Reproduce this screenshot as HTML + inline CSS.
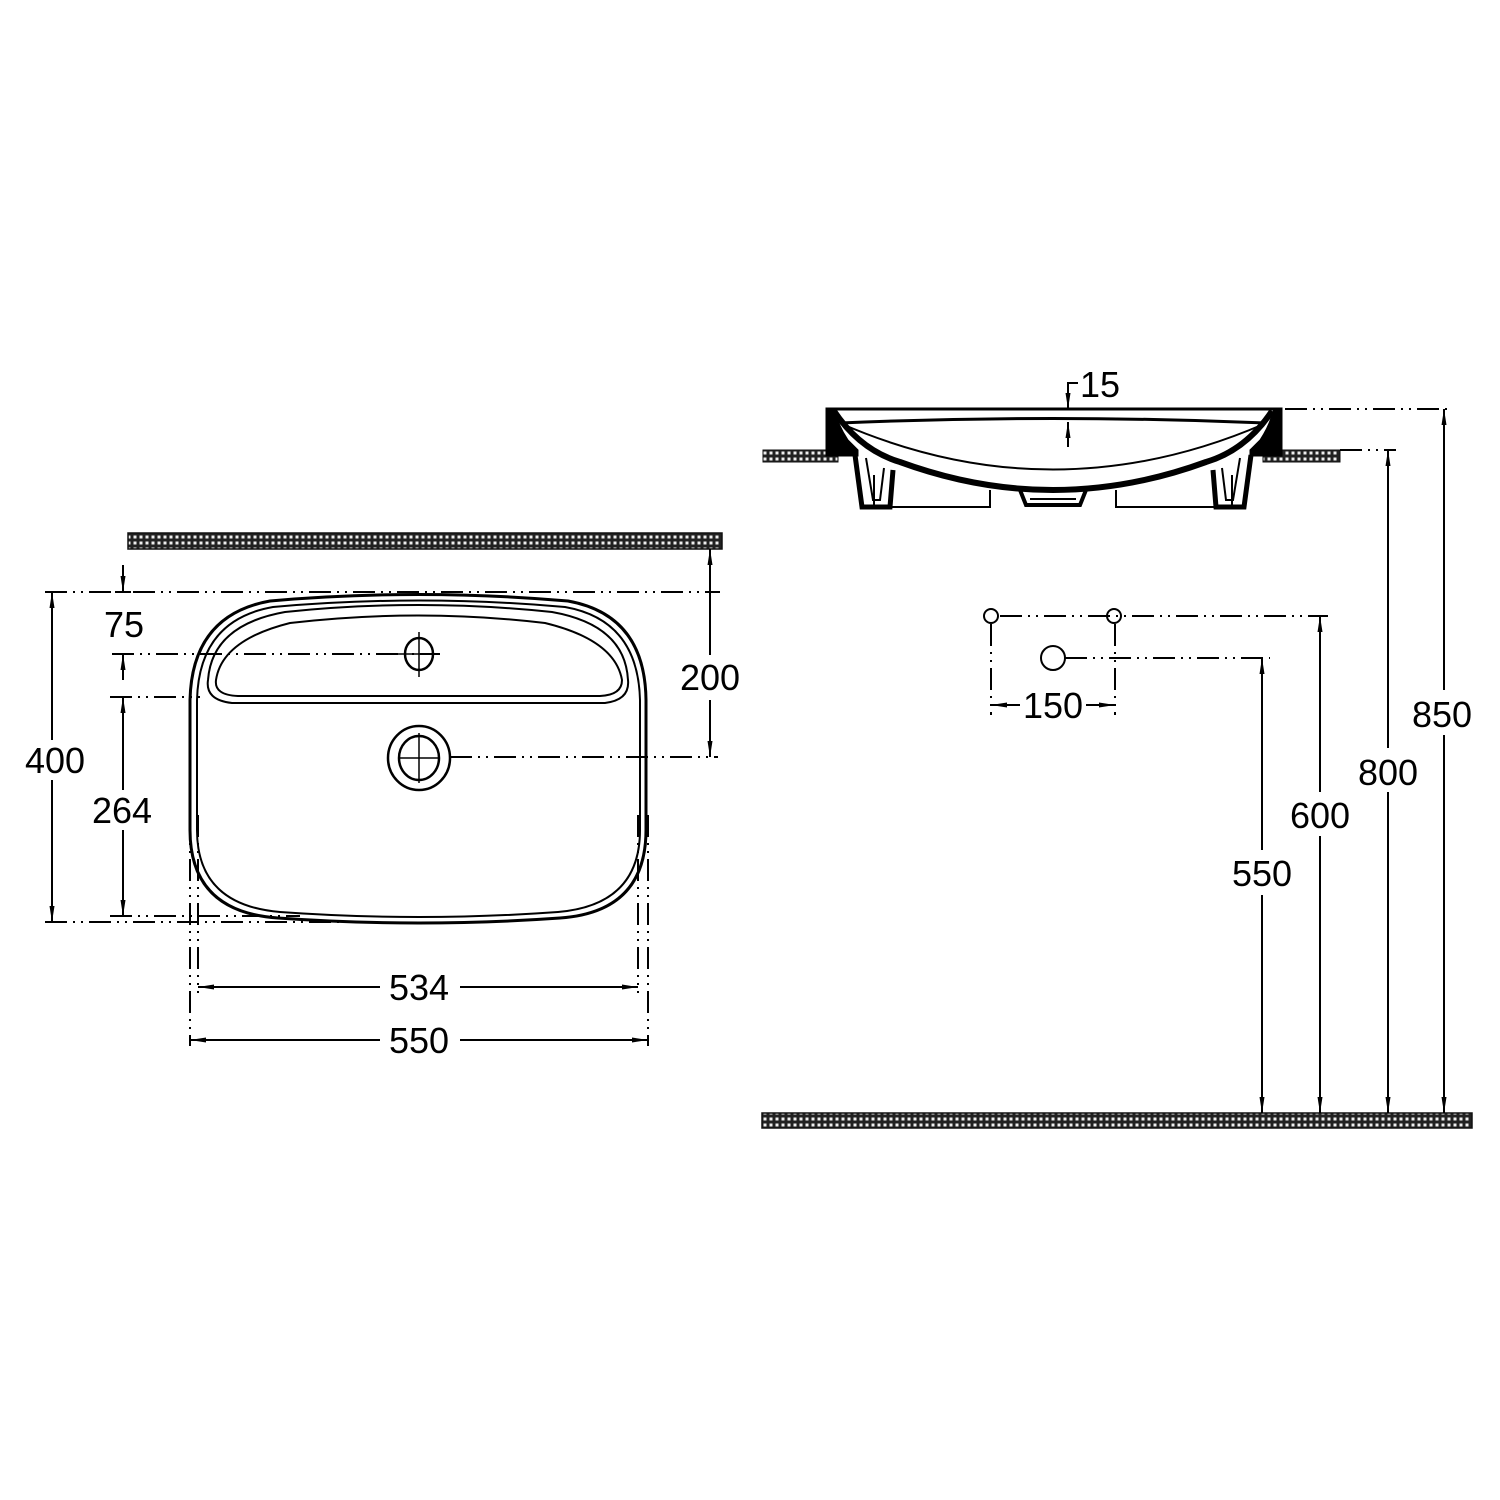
<!DOCTYPE html>
<html><head><meta charset="utf-8"><style>
html,body{margin:0;padding:0;background:#fff}
svg{display:block}
text{font-family:"Liberation Sans",sans-serif;font-size:36px;fill:#000}
</style></head><body>
<svg width="1500" height="1500" viewBox="0 0 1500 1500" xmlns="http://www.w3.org/2000/svg">
<defs>
<pattern id="hp" width="6" height="6" patternUnits="userSpaceOnUse">
<rect width="6" height="6" fill="#222"/><rect x="1.5" y="1.5" width="3" height="3" fill="#eee"/>
</pattern>
<marker id="ar" viewBox="0 0 16 8" refX="16" refY="4" markerWidth="16" markerHeight="8" orient="auto-start-reverse" markerUnits="userSpaceOnUse"><path d="M0,1.5 L16,4 L0,6.5 Z" fill="#000"/></marker>
</defs>
<g fill="none" stroke="#000">
<rect x="128" y="533" width="594" height="16" fill="url(#hp)" stroke="#111" stroke-width="1.5"/>
<rect x="762" y="1113" width="710" height="15" fill="url(#hp)" stroke="#111" stroke-width="1.5"/>
<rect x="763" y="450" width="75" height="12" fill="url(#hp)" stroke="#111" stroke-width="1"/>
<rect x="1263" y="450" width="77" height="12" fill="url(#hp)" stroke="#111" stroke-width="1"/>

<!-- plan view sink -->
<path d="M270 601 Q419 588 568 601 Q645 615 646 700 L646 830 Q646 912 560 918 Q419 928 278 918 Q190 912 190 830 L190 700 Q192 615 270 601 Z" stroke-width="3"/>
<path d="M273 607 Q419 594 565 607 Q638 620 640 700 L640 830 Q640 905 558 912 Q419 922 280 912 Q197 905 197 830 L197 700 Q199 620 273 607 Z" stroke-width="2"/>
<path d="M285 612 Q419 598 552 612 Q625 625 628 680 Q630 700 605 703 L232 703 Q205 700 208 680 Q212 625 285 612 Z" stroke-width="2"/>
<path d="M290 623 Q419 608 545 623 Q615 640 622 680 Q622 695 600 696 L238 696 Q214 695 216 680 Q222 640 290 623 Z" stroke-width="2"/>
<ellipse cx="419" cy="654" rx="14" ry="16" stroke-width="2.5"/>
<line x1="419" y1="632" x2="419" y2="677" stroke-width="1.5"/>
<line x1="398" y1="654" x2="440" y2="654" stroke-width="1.5"/>
<ellipse cx="419" cy="758" rx="31" ry="32" stroke-width="2.5"/>
<ellipse cx="419" cy="758" rx="20" ry="22" stroke-width="2.5"/>
<line x1="419" y1="733" x2="419" y2="783" stroke-width="1.5"/>
<line x1="398" y1="758" x2="440" y2="758" stroke-width="1.5"/>

<g stroke-width="2" stroke-dasharray="22 6 2 6 2 6">
<line x1="45" y1="592" x2="720" y2="592"/>
<line x1="112" y1="654" x2="440" y2="654"/>
<line x1="110" y1="697" x2="200" y2="697"/>
<line x1="450" y1="757" x2="718" y2="757"/>
<line x1="45" y1="922" x2="360" y2="922"/>
<line x1="110" y1="916" x2="300" y2="916"/>
<line x1="190" y1="815" x2="190" y2="1046"/>
<line x1="198" y1="815" x2="198" y2="993"/>
<line x1="638" y1="815" x2="638" y2="993"/>
<line x1="648" y1="815" x2="648" y2="1046"/>
<line x1="1285" y1="409" x2="1450" y2="409"/>
<line x1="1340" y1="450" x2="1396" y2="450"/>
<line x1="1000" y1="616" x2="1328" y2="616"/>
<line x1="1065" y1="658" x2="1270" y2="658"/>
<line x1="991" y1="624" x2="991" y2="715"/>
<line x1="1115" y1="624" x2="1115" y2="715"/>
</g>

<g stroke-width="2">
<line x1="123" y1="565" x2="123" y2="592" marker-end="url(#ar)"/>
<line x1="115" y1="592" x2="131" y2="592"/>
<line x1="123" y1="680" x2="123" y2="654" marker-end="url(#ar)"/>
<line x1="115" y1="654" x2="131" y2="654"/>
<line x1="52" y1="740" x2="52" y2="592" marker-end="url(#ar)"/>
<line x1="52" y1="780" x2="52" y2="922" marker-end="url(#ar)"/>
<line x1="123" y1="790" x2="123" y2="697" marker-end="url(#ar)"/>
<line x1="123" y1="830" x2="123" y2="916" marker-end="url(#ar)"/>
<line x1="710" y1="655" x2="710" y2="549" marker-end="url(#ar)"/>
<line x1="710" y1="700" x2="710" y2="757" marker-end="url(#ar)"/>
<line x1="380" y1="987" x2="198" y2="987" marker-end="url(#ar)"/>
<line x1="460" y1="987" x2="638" y2="987" marker-end="url(#ar)"/>
<line x1="380" y1="1040" x2="190" y2="1040" marker-end="url(#ar)"/>
<line x1="460" y1="1040" x2="648" y2="1040" marker-end="url(#ar)"/>
<line x1="1020" y1="705" x2="991" y2="705" marker-end="url(#ar)"/>
<line x1="1086" y1="705" x2="1115" y2="705" marker-end="url(#ar)"/>
<line x1="1444" y1="690" x2="1444" y2="409" marker-end="url(#ar)"/>
<line x1="1444" y1="735" x2="1444" y2="1113" marker-end="url(#ar)"/>
<line x1="1388" y1="748" x2="1388" y2="450" marker-end="url(#ar)"/>
<line x1="1388" y1="792" x2="1388" y2="1113" marker-end="url(#ar)"/>
<line x1="1320" y1="792" x2="1320" y2="616" marker-end="url(#ar)"/>
<line x1="1320" y1="836" x2="1320" y2="1113" marker-end="url(#ar)"/>
<line x1="1262" y1="850" x2="1262" y2="658" marker-end="url(#ar)"/>
<line x1="1262" y1="895" x2="1262" y2="1113" marker-end="url(#ar)"/>
<polyline points="1078,383 1068,383 1068,409" marker-end="url(#ar)"/>
<line x1="1068" y1="447" x2="1068" y2="422" marker-end="url(#ar)"/>
</g>
<circle cx="991" cy="616" r="7" stroke-width="2"/>
<circle cx="1114" cy="616" r="7" stroke-width="2"/>
<circle cx="1053" cy="658" r="12" stroke-width="2"/>

<!-- side view -->
<line x1="826" y1="409" x2="1282" y2="409" stroke-width="3"/>
<path d="M840 423 Q1053 414 1266 423" stroke-width="3"/>
<path d="M842 424 Q1053 515 1264 424" stroke-width="2"/>
<path d="M834 411 Q860 450 900 462 Q1053 518 1206 462 Q1246 450 1272 411" stroke-width="6"/>
<path d="M826 408 L834 408 Q838 425 848 440 L858 450 L858 456 L826 456 Z" fill="#000"/>
<path d="M1282 408 L1274 408 Q1270 425 1260 440 L1250 450 L1250 456 L1282 456 Z" fill="#000"/>
<path d="M855 455 L862 507 L890 507 L893 470" stroke-width="5"/>
<path d="M866 458 L873 500 L880 500 L884 468" stroke-width="2"/>
<path d="M1251 455 L1244 507 L1216 507 L1213 470" stroke-width="5"/>
<path d="M1240 458 L1233 500 L1226 500 L1222 468" stroke-width="2"/>
<path d="M874 475 L874 507 L990 507 L990 490" stroke-width="2"/>
<path d="M1232 475 L1232 507 L1116 507 L1116 490" stroke-width="2"/>
<path d="M1020 490 L1026 505 L1080 505 L1086 490" stroke-width="4"/>
<line x1="1030" y1="499" x2="1076" y2="499" stroke-width="2"/>
</g>

<g>
<text x="124" y="637" text-anchor="middle">75</text>
<text x="710" y="690" text-anchor="middle">200</text>
<text x="55" y="773" text-anchor="middle">400</text>
<text x="122" y="823" text-anchor="middle">264</text>
<text x="419" y="1000" text-anchor="middle">534</text>
<text x="419" y="1053" text-anchor="middle">550</text>
<text x="1100" y="397" text-anchor="middle">15</text>
<text x="1053" y="718" text-anchor="middle">150</text>
<text x="1442" y="727" text-anchor="middle">850</text>
<text x="1388" y="785" text-anchor="middle">800</text>
<text x="1320" y="828" text-anchor="middle">600</text>
<text x="1262" y="886" text-anchor="middle">550</text>
</g>
</svg>
</body></html>
